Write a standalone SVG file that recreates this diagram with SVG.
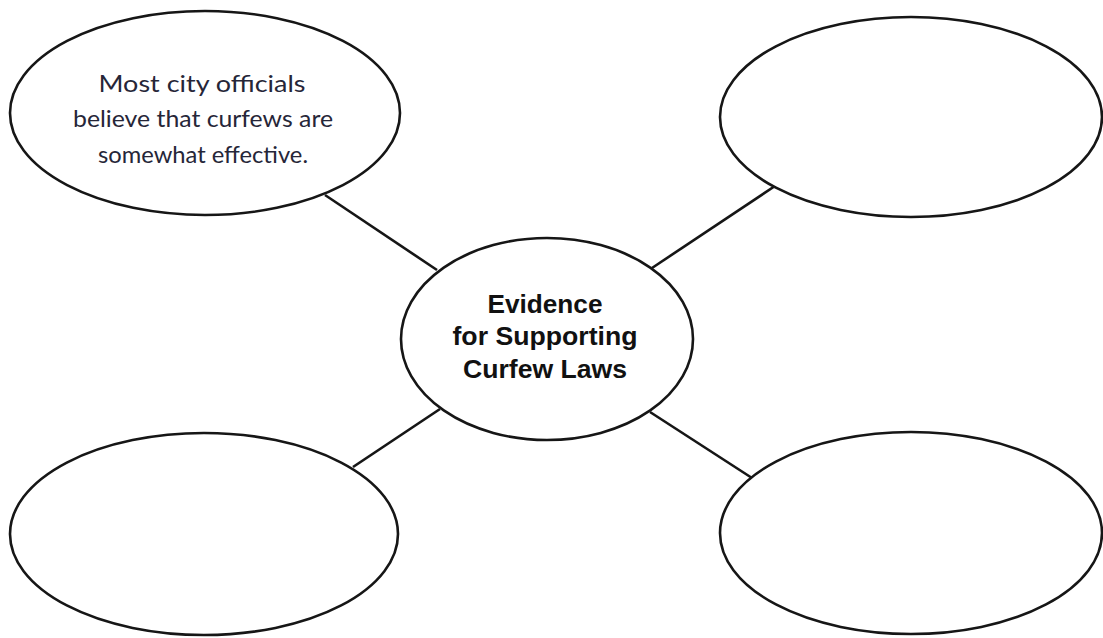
<svg xmlns="http://www.w3.org/2000/svg" width="1103" height="638" viewBox="0 0 1103 638">
<style>
.node{fill:#ffffff;stroke:#161616;stroke-width:2.6}
.conn{stroke:#161616;stroke-width:2.6;fill:none}
.hand{font-family:Lato,"Open Sans",sans-serif;font-size:23px;fill:#262638;text-anchor:middle}
.title{font-family:"Liberation Sans",Arial,sans-serif;font-weight:bold;font-size:25px;fill:#111111;text-anchor:middle}
</style>
<rect width="1103" height="638" fill="#ffffff"/>
<g id="connectors">
<line class="conn" x1="325" y1="195" x2="437" y2="270"/>
<line class="conn" x1="652" y1="268" x2="775" y2="186"/>
<line class="conn" x1="353" y1="467" x2="440" y2="409"/>
<line class="conn" x1="650" y1="412" x2="752" y2="478"/>
</g>
<g id="node-top-left">
<ellipse class="node" cx="205" cy="113" rx="195" ry="102"/>
<text class="hand" x="202" y="92" textLength="207" lengthAdjust="spacingAndGlyphs">Most city officials</text>
<text class="hand" x="203" y="127" textLength="260" lengthAdjust="spacingAndGlyphs">believe that curfews are</text>
<text class="hand" x="203" y="163" textLength="210" lengthAdjust="spacingAndGlyphs">somewhat effective.</text>
</g>
<g id="node-top-right">
<ellipse class="node" cx="911" cy="117" rx="191" ry="100"/>
</g>
<g id="node-center">
<ellipse class="node" cx="547" cy="339" rx="146" ry="101"/>
<text class="title" x="545" y="313" textLength="115" lengthAdjust="spacingAndGlyphs">Evidence</text>
<text class="title" x="545" y="345" textLength="185" lengthAdjust="spacingAndGlyphs">for Supporting</text>
<text class="title" x="545" y="378" textLength="164" lengthAdjust="spacingAndGlyphs">Curfew Laws</text>
</g>
<g id="node-bottom-left">
<ellipse class="node" cx="204" cy="534" rx="194" ry="101"/>
</g>
<g id="node-bottom-right">
<ellipse class="node" cx="911" cy="533" rx="191" ry="101"/>
</g>
</svg>
